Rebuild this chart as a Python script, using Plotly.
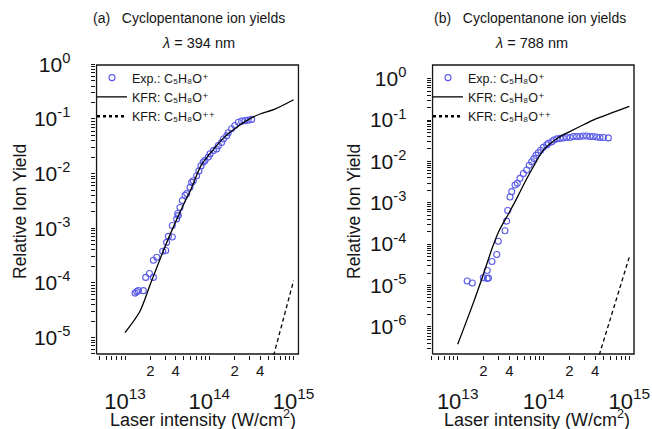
import plotly.graph_objects as go

# ---------------- data ----------------
# Panel (a): lambda = 394 nm
a_exp_I = [1.315e13, 1.377e13, 1.44e13, 1.65e13, 1.76e13, 1.95e13, 2.17e13, 2.17e13, 2.38e13, 2.80e13,
           3.04e13, 3.12e13, 3.27e13, 3.64e13, 3.64e13, 4.10e13, 4.29e13, 4.22e13, 4.49e13, 4.79e13,
           5.15e13, 5.40e13, 5.90e13, 6.18e13, 6.46e13, 7.08e13, 7.53e13, 7.96e13, 8.49e13, 8.89e13,
           9.73e13, 1.02e14, 1.12e14, 1.22e14, 1.28e14, 1.40e14, 1.47e14, 1.61e14, 1.68e14, 1.84e14,
           2.01e14, 2.21e14, 2.42e14, 2.65e14, 2.90e14, 3.18e14]
a_exp_Y = [6.5e-5, 6.9e-5, 7.2e-5, 7.2e-5, 1.26e-4, 1.48e-4, 1.26e-4, 2.6e-4, 2.95e-4, 3.8e-4,
           3.9e-4, 5.5e-4, 7.1e-4, 6.9e-4, 1.12e-3, 1.48e-3, 1.70e-3, 1.86e-3, 2.4e-3, 3.2e-3,
           4.0e-3, 4.3e-3, 5.6e-3, 6.9e-3, 7.4e-3, 9.1e-3, 1.12e-2, 1.38e-2, 1.62e-2, 1.74e-2,
           2.0e-2, 2.29e-2, 2.63e-2, 2.82e-2, 3.24e-2, 3.7e-2, 4.3e-2, 4.9e-2, 5.6e-2, 6.6e-2,
           7.6e-2, 8.7e-2, 9.1e-2, 9.3e-2, 9.5e-2, 9.8e-2]
a_kfr1_I = [1e13, 1.5e13, 2e13, 3e13, 4e13, 5e13, 6e13, 8e13, 1e14, 1.5e14, 2e14, 3e14, 4e14, 6e14, 1e15]
a_kfr1_Y = [1.23e-5, 3.0e-5, 9.5e-5, 4.7e-4, 1.32e-3, 2.8e-3, 5.0e-3, 1.41e-2, 2.24e-2, 4.6e-2,
            6.6e-2, 0.100, 0.123, 0.151, 0.224]
a_kfr2_I = [5e14, 6e14, 7e14, 8e14, 1e15]
a_kfr2_Y = [2.0e-6, 5.6e-6, 1.38e-5, 3.0e-5, 1.1e-4]

# Panel (b): lambda = 788 nm
b_exp_I = [1.29e13, 1.48e13, 1.99e13, 2.21e13, 2.28e13, 2.21e13, 2.51e13, 2.85e13, 2.97e13, 3.56e13,
           3.72e13, 3.83e13, 4.07e13, 4.26e13, 4.66e13, 4.95e13, 5.32e13, 5.82e13, 6.37e13, 6.82e13,
           7.28e13, 7.74e13, 8.18e13, 8.69e13, 9.27e13, 9.95e13, 1.09e14, 1.14e14, 1.25e14, 1.32e14,
           1.43e14, 1.56e14, 1.70e14, 1.86e14, 2.04e14, 2.22e14, 2.43e14, 2.66e14, 2.91e14, 3.18e14,
           3.48e14, 3.80e14, 4.17e14, 4.55e14, 4.98e14, 5.69e14]
b_exp_Y = [1.29e-5, 1.15e-5, 1.55e-5, 1.48e-5, 1.51e-5, 2.3e-5, 3.8e-5, 5.6e-5, 1.17e-4, 2.1e-4,
           3.6e-4, 6.5e-4, 1.38e-3, 1.86e-3, 2.7e-3, 2.95e-3, 3.9e-3, 5.1e-3, 6.2e-3, 8.1e-3,
           9.8e-3, 1.17e-2, 1.41e-2, 1.62e-2, 1.86e-2, 2.19e-2, 2.51e-2, 2.75e-2, 3.0e-2, 3.3e-2,
           3.5e-2, 3.6e-2, 3.7e-2, 3.8e-2, 3.8e-2, 4.0e-2, 4.0e-2, 4.0e-2, 4.1e-2, 4.1e-2,
           4.0e-2, 4.0e-2, 3.9e-2, 3.8e-2, 3.8e-2, 3.7e-2]
b_kfr1_I = [1e13, 1.5e13, 2e13, 2.5e13, 3e13, 4e13, 5e13, 6e13, 8e13, 1e14, 1.5e14, 2e14, 3e14, 4e14, 6e14, 1e15]
b_kfr1_Y = [3.8e-7, 3.5e-6, 1.9e-5, 7.6e-5, 2.0e-4, 5.9e-4, 1.41e-3, 3.0e-3, 8.9e-3, 1.9e-2,
            3.8e-2, 5.2e-2, 7.9e-2, 0.105, 0.145, 0.214]
b_kfr2_I = [4e14, 6e14, 8e14, 1e15]
b_kfr2_Y = [1.0e-7, 1.55e-6, 1.07e-5, 4.9e-5]

titles = ["(a)   Cyclopentanone ion yields", "(b)   Cyclopentanone ion yields"]
wavelengths = ["<i>λ</i> = 394 nm", "<i>λ</i> = 788 nm"]
legend_names = ["Exp.: C₅H₈O⁺", "KFR: C₅H₈O⁺", "KFR: C₅H₈O⁺⁺"]
x_title = "Laser intensity (W/cm<sup>2</sup>)"
y_title = "Relative Ion Yield"
x_major = [1e13, 1e14, 1e15]
x_major_text = ["10<sup>13</sup>", "10<sup>14</sup>", "10<sup>15</sup>"]
x_minor_lab = [2e13, 4e13, 2e14, 4e14]
x_minor_text = ["2", "4", "2", "4"]

# axis ranges (log10 units)
xa_rng, ya_rng = [12.65, 15.07], [-5.32, 0.005]
xb_rng, yb_rng = [12.695, 15.066], [-6.68, 0.355]

# ---------------- figure ----------------
FONT = "Liberation Sans, Arial, DejaVu Sans, sans-serif"
INK = "#151515"
BLUE = "#5a5ae8"
W, H = 652, 429
boxes = [(95.5, 299.5), (431.5, 635)]
ybox = (64, 355)
fig = go.Figure()

panels = [
    dict(xa="x", ya="y", leg="legend", exp=(a_exp_I, a_exp_Y), k1=(a_kfr1_I, a_kfr1_Y), k2=(a_kfr2_I, a_kfr2_Y),
         xr=xa_rng, yr=ya_rng, box=boxes[0]),
    dict(xa="x2", ya="y2", leg="legend2", exp=(b_exp_I, b_exp_Y), k1=(b_kfr1_I, b_kfr1_Y), k2=(b_kfr2_I, b_kfr2_Y),
         xr=xb_rng, yr=yb_rng, box=boxes[1]),
]
for p in panels:
    fig.add_trace(go.Scatter(x=p["exp"][0], y=p["exp"][1], mode="markers", name=legend_names[0],
                             marker=dict(symbol="circle-open", size=6, color=BLUE, line=dict(width=1.1, color=BLUE)),
                             xaxis=p["xa"], yaxis=p["ya"], legend=p["leg"]))
    fig.add_trace(go.Scatter(x=p["k1"][0], y=p["k1"][1], mode="lines", name=legend_names[1],
                             line=dict(color="black", width=1.3, shape="spline", smoothing=0.8),
                             xaxis=p["xa"], yaxis=p["ya"], legend=p["leg"]))
    fig.add_trace(go.Scatter(x=p["k2"][0], y=p["k2"][1], mode="lines", name=legend_names[2], showlegend=False,
                             line=dict(color="black", width=1.3, dash="4px,3px"),
                             xaxis=p["xa"], yaxis=p["ya"], legend=p["leg"]))
    # legend key for the doubly-charged curve (drawn dotted in the key)
    fig.add_trace(go.Scatter(x=[None], y=[None], mode="lines", name=legend_names[2],
                             line=dict(color="black", width=2.5, dash="dot"),
                             xaxis=p["xa"], yaxis=p["ya"], legend=p["leg"]))
    # plot frame, drawn just inside the axis range limits (inset ~1 px)
    px_w = p["box"][1] - p["box"][0]
    px_h = ybox[1] - ybox[0]
    dx = (p["xr"][1] - p["xr"][0]) * 1.0 / px_w
    dy = (p["yr"][1] - p["yr"][0]) * 1.0 / px_h
    x0, x1 = 10 ** (p["xr"][0] + dx), 10 ** (p["xr"][1] - dx)
    y0, y1 = 10 ** (p["yr"][0] + dy), 10 ** (p["yr"][1] - dy)
    fig.add_trace(go.Scatter(x=[x0, x1, x1, x0, x0], y=[y0, y0, y1, y1, y0], mode="lines",
                             line=dict(color=INK, width=1.4), showlegend=False, hoverinfo="skip",
                             xaxis=p["xa"], yaxis=p["ya"]))


def decade_ticks(lo, hi):
    vals = []
    for e in range(lo, hi + 1):
        for k in range(1, 10):
            vals.append(k * 10.0 ** e)
    return vals


def x_ticks():
    vals = decade_ticks(12, 14) + [1e15]
    text = []
    for v in vals:
        if v in x_major:
            lab = x_major_text[x_major.index(v)]
            text.append("<br><span style='font-size:22px'>%s</span>" % lab)
        elif v in x_minor_lab:
            text.append("<span style='font-size:15px'>%s</span>" % x_minor_text[x_minor_lab.index(v)])
        else:
            text.append("")
    return vals, text


def y_ticks(lo):
    vals = decade_ticks(lo - 1, -1) + [1.0]
    text = []
    for v in vals:
        match = [e for e in range(lo, 1) if abs(v - 10.0 ** e) < 1e-9 * 10.0 ** e]
        text.append("10<sup>%d</sup>" % match[0] if match else "")
    return vals, text


layout = {}
xv, xt = x_ticks()
for i, (xrng, yrng, ylo) in enumerate([(xa_rng, ya_rng, -5), (xb_rng, yb_rng, -6)]):
    xn = "xaxis" if i == 0 else "xaxis2"
    yn = "yaxis" if i == 0 else "yaxis2"
    xr = "x" if i == 0 else "x2"
    yr = "y" if i == 0 else "y2"
    yv, yt = y_ticks(ylo)
    layout[xn] = dict(type="log", domain=[boxes[i][0] / W, boxes[i][1] / W], range=xrng, anchor=yr,
                      automargin=False, showline=False, showgrid=False, zeroline=False,
                      tickmode="array", tickvals=xv, ticktext=xt,
                      ticks="outside", tickangle=0, ticklen=4, tickwidth=1, tickcolor=INK,
                      ticklabelstandoff=-14, tickfont=dict(family=FONT, size=25, color=INK))
    layout[yn] = dict(type="log", domain=[1 - ybox[1] / H, 1 - ybox[0] / H], range=yrng, anchor=xr,
                      automargin=False, showline=False, showgrid=False, zeroline=False,
                      tickmode="array", tickvals=yv, ticktext=yt,
                      ticks="outside", ticklen=4, tickwidth=1, tickcolor=INK, ticklabelstandoff=16,
                      tickfont=dict(family=FONT, size=21, color=INK))

fig.update_layout(
    template="none",
    width=W, height=H, margin=dict(l=0, r=0, t=0, b=0, autoexpand=False),
    paper_bgcolor="white", plot_bgcolor="white",
    font=dict(family=FONT, color=INK),
    legend=dict(x=92 / W, y=1 - 63 / H, xanchor="left", yanchor="top", bgcolor="rgba(0,0,0,0)",
                font=dict(family=FONT, size=12.5, color=INK), tracegroupgap=0),
    legend2=dict(x=428 / W, y=1 - 63 / H, xanchor="left", yanchor="top", bgcolor="rgba(0,0,0,0)",
                 font=dict(family=FONT, size=12.5, color=INK), tracegroupgap=0),
    showlegend=True,
    **layout,
)

ann = []
for i, (cx, lx) in enumerate([(189, 198), (530, 531)]):
    ann.append(dict(text=titles[i], x=cx / W, y=1 - 18 / H, xref="paper", yref="paper",
                    showarrow=False, font=dict(family=FONT, size=14, color=INK), xanchor="center", yanchor="middle"))
    ann.append(dict(text=wavelengths[i], x=lx / W, y=1 - 43 / H, xref="paper", yref="paper",
                    showarrow=False, font=dict(family=FONT, size=14.5, color=INK), xanchor="center", yanchor="middle"))
for cx in [203, 537]:
    ann.append(dict(text=x_title, x=cx / W, y=1 - 418 / H, xref="paper", yref="paper",
                    showarrow=False, font=dict(family=FONT, size=18, color=INK), xanchor="center", yanchor="middle"))
for cx in [20, 354]:
    ann.append(dict(text=y_title, x=cx / W, y=1 - 212 / H, xref="paper", yref="paper", textangle=-90,
                    showarrow=False, font=dict(family=FONT, size=17.5, color=INK), xanchor="center", yanchor="middle"))
fig.update_layout(annotations=ann)

fig.write_html("out.html")
